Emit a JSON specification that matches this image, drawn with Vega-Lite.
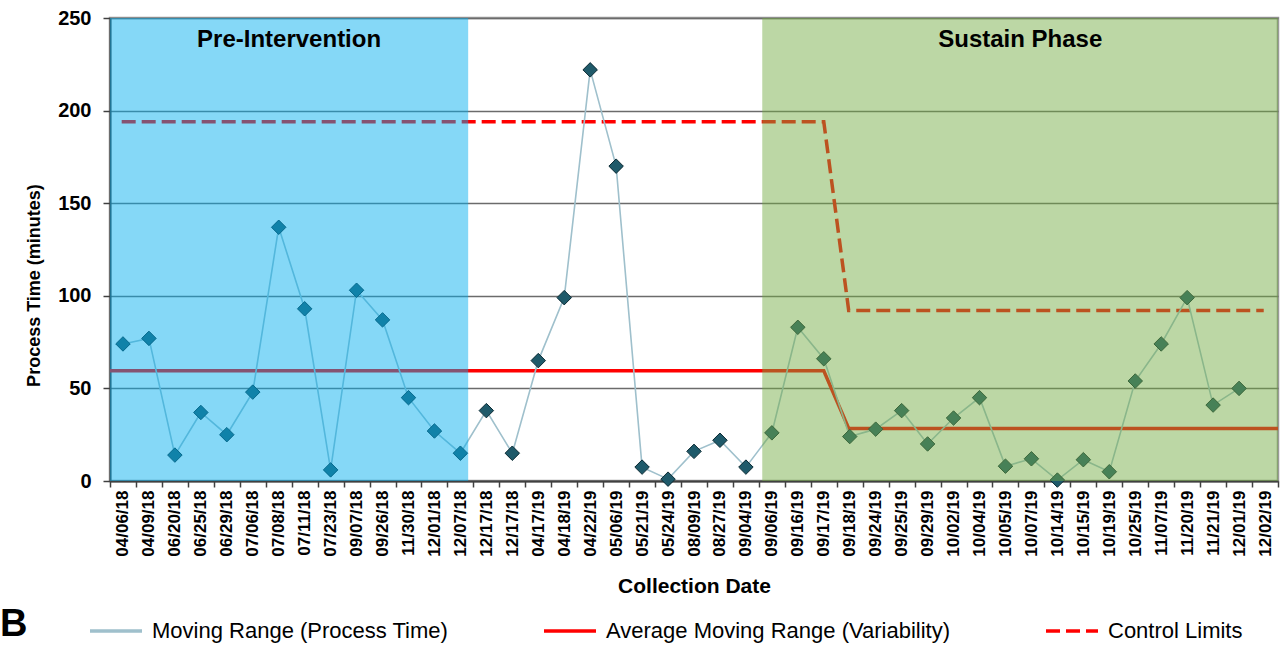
{
  "$schema": "https://vega.github.io/schema/vega-lite/v6.json",
  "width": 1168,
  "height": 463,
  "autosize": {"type": "none"},
  "padding": {"left": 110, "top": 18, "right": 7, "bottom": 164},
  "background": "white",
  "config": {
    "font": "Liberation Sans",
    "view": {"stroke": "#9a9a9a", "strokeWidth": 2.5},
    "axis": {"domainColor": "#404040", "domainWidth": 2, "tickColor": "#404040", "tickWidth": 1.5, "labelColor": "black", "titleColor": "black", "labelFont": "Liberation Sans", "titleFont": "Liberation Sans"}
  },
  "title": {"text": "B", "orient": "bottom", "anchor": "start", "frame": "group", "dx": -110, "dy": -40, "offset": 4, "fontSize": 38, "fontWeight": "bold", "color": "black", "font": "Liberation Sans"},
  "datasets": {
    "mr": [
      {"date": "04/06/18", "mr": 74},
      {"date": "04/09/18", "mr": 77},
      {"date": "06/20/18", "mr": 14},
      {"date": "06/25/18", "mr": 37},
      {"date": "06/29/18", "mr": 25},
      {"date": "07/06/18", "mr": 48},
      {"date": "07/08/18", "mr": 137},
      {"date": "07/11/18", "mr": 93},
      {"date": "07/23/18", "mr": 6},
      {"date": "09/07/18", "mr": 103},
      {"date": "09/26/18", "mr": 87},
      {"date": "11/30/18", "mr": 45},
      {"date": "12/01/18", "mr": 27},
      {"date": "12/07/18", "mr": 15},
      {"date": "12/17/18", "mr": 38},
      {"date": "12/17/18 ", "mr": 15},
      {"date": "04/17/19", "mr": 65},
      {"date": "04/18/19", "mr": 99},
      {"date": "04/22/19", "mr": 222},
      {"date": "05/06/19", "mr": 170},
      {"date": "05/21/19", "mr": 7.5},
      {"date": "05/24/19", "mr": 1},
      {"date": "08/09/19", "mr": 16},
      {"date": "08/27/19", "mr": 22},
      {"date": "09/04/19", "mr": 7.5},
      {"date": "09/06/19", "mr": 26},
      {"date": "09/16/19", "mr": 83},
      {"date": "09/17/19", "mr": 66},
      {"date": "09/18/19", "mr": 24},
      {"date": "09/24/19", "mr": 28},
      {"date": "09/25/19", "mr": 38},
      {"date": "09/29/19", "mr": 20},
      {"date": "10/02/19", "mr": 34},
      {"date": "10/04/19", "mr": 45},
      {"date": "10/05/19", "mr": 8},
      {"date": "10/07/19", "mr": 12},
      {"date": "10/14/19", "mr": 0.5},
      {"date": "10/15/19", "mr": 11.5},
      {"date": "10/19/19", "mr": 5},
      {"date": "10/25/19", "mr": 54},
      {"date": "11/07/19", "mr": 74},
      {"date": "11/20/19", "mr": 99},
      {"date": "11/21/19", "mr": 41},
      {"date": "12/01/19", "mr": 50},
      {"date": "12/02/19", "mr": null}
    ],
    "limits": [
      {"series": "Average Moving Range (Variability)", "pos": 0, "value": 59.5},
      {"series": "Average Moving Range (Variability)", "pos": 27.5, "value": 59.5},
      {"series": "Average Moving Range (Variability)", "pos": 28.46, "value": 28.4},
      {"series": "Average Moving Range (Variability)", "pos": 45, "value": 28.4},
      {"series": "Control Limits", "pos": 0.45, "value": 194},
      {"series": "Control Limits", "pos": 27.5, "value": 194},
      {"series": "Control Limits", "pos": 28.46, "value": 92.1},
      {"series": "Control Limits", "pos": 44.45, "value": 92.1}
    ],
    "phases": [
      {"phase": "Pre-Intervention", "start": 0, "end": 13.8, "mid": 6.9},
      {"phase": "Sustain Phase", "start": 25.13, "end": 45, "mid": 35.07}
    ]
  },
  "layer": [
    {
      "data": {"name": "limits"},
      "mark": {"type": "line", "strokeWidth": 3.5},
      "encoding": {
        "x": {"field": "pos", "type": "quantitative", "scale": {"domain": [0, 45], "nice": false, "zero": false}, "axis": null},
        "y": {"field": "value", "type": "quantitative", "scale": {"domain": [0, 250], "nice": false}, "axis": {"values": [0, 50, 100, 150, 200, 250], "grid": true, "gridColor": "#6b6b6b", "gridWidth": 1.3, "tickSize": 7, "labelPadding": 12, "labelFontSize": 20, "labelFontWeight": "bold", "title": "Process Time (minutes)", "titleFontSize": 18, "titleFontWeight": "bold", "titlePadding": 14, "titleY": 267}},
        "color": {"field": "series", "type": "nominal", "scale": {"domain": ["Moving Range (Process Time)", "Average Moving Range (Variability)", "Control Limits"], "range": ["#9FC0CC", "#FF0000", "#FF0000"]}, "legend": {"orient": "none", "legendX": -22, "legendY": 585, "direction": "horizontal", "columns": 3, "title": null, "symbolType": "stroke", "symbolSize": 2704, "symbolStrokeWidth": 3.5, "labelFontSize": 22, "labelFont": "Liberation Sans", "labelColor": "black", "labelLimit": 0, "columnPadding": 88, "labelOffset": 8}},
        "strokeDash": {"field": "series", "type": "nominal", "scale": {"domain": ["Moving Range (Process Time)", "Average Moving Range (Variability)", "Control Limits"], "range": [[1, 0], [1, 0], [14, 6]]}, "legend": {"orient": "none", "legendX": -22, "legendY": 585, "direction": "horizontal", "columns": 3, "title": null, "symbolType": "stroke", "symbolSize": 2704, "symbolStrokeWidth": 3.5, "labelFontSize": 22, "labelFont": "Liberation Sans", "labelColor": "black", "labelLimit": 0, "columnPadding": 88, "labelOffset": 8}}
      }
    },
    {
      "data": {"name": "mr"},
      "layer": [
        {
          "mark": {"type": "rule", "strokeOpacity": 0},
          "encoding": {
            "x": {"field": "date", "type": "ordinal", "sort": null, "scale": {"type": "band", "paddingInner": 0, "paddingOuter": 0}, "axis": {"tickBand": "extent", "labelAngle": 270, "labelFontSize": 17, "labelFontWeight": "bold", "tickSize": 6, "labelPadding": 3, "title": "Collection Date", "titleFontSize": 21, "titleFontWeight": "bold", "titlePadding": 19}}
          }
        },
        {
          "mark": {"type": "line", "strokeWidth": 1.6},
          "encoding": {
            "x": {"field": "date", "type": "ordinal", "sort": null},
            "y": {"field": "mr", "type": "quantitative"},
            "color": {"datum": "Moving Range (Process Time)", "type": "nominal"}
          }
        },
        {
          "mark": {"type": "point", "shape": "diamond", "filled": true, "fill": "#1F5A6A", "stroke": "#0B2A33", "strokeWidth": 1, "size": 210, "opacity": 1},
          "encoding": {
            "x": {"field": "date", "type": "ordinal", "sort": null},
            "y": {"field": "mr", "type": "quantitative"}
          }
        }
      ]
    },
    {
      "data": {"name": "phases"},
      "mark": {"type": "rect", "opacity": 0.48},
      "encoding": {
        "x": {"field": "start", "type": "quantitative", "scale": {"domain": [0, 45], "nice": false, "zero": false}, "axis": null},
        "x2": {"field": "end"},
        "y": {"datum": 250, "type": "quantitative"},
        "y2": {"datum": 0},
        "fill": {"field": "phase", "type": "nominal", "scale": {"domain": ["Pre-Intervention", "Sustain Phase"], "range": ["#00ADEF", "#73AB43"]}, "legend": null}
      }
    },
    {
      "data": {"name": "phases"},
      "mark": {"type": "text", "fontSize": 24, "fontWeight": "bold", "color": "black", "align": "center", "baseline": "middle", "font": "Liberation Sans"},
      "encoding": {
        "x": {"field": "mid", "type": "quantitative", "scale": {"domain": [0, 45], "nice": false, "zero": false}, "axis": null},
        "y": {"datum": 238, "type": "quantitative"},
        "text": {"field": "phase"}
      }
    }
  ],
  "resolve": {"scale": {"x": "independent"}, "axis": {"x": "independent"}}
}
